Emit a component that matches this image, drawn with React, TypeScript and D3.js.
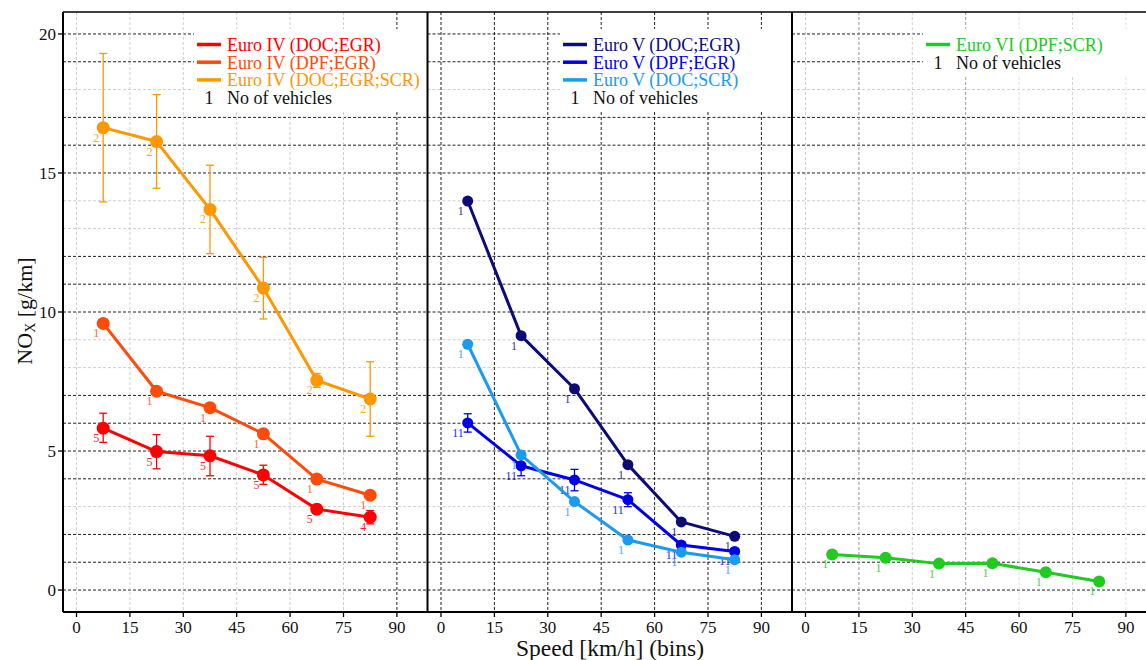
import React from "react";
import * as d3 from "d3";

// ---------- data ----------
const speedBins = [7.5, 22.5, 37.5, 52.5, 67.5, 82.5];
const xTicks = [0, 15, 30, 45, 60, 75, 90];
const yTicks = [0, 5, 10, 15, 20];
const yGridValues = d3.range(0, 21);

// Euro IV
const e4DocEgr = [5.82, 4.98, 4.83, 4.14, 2.91, 2.62];
const e4DocEgrHi = [6.36, 5.59, 5.53, 4.49, 3.02, 2.86];
const e4DocEgrLo = [5.31, 4.36, 4.11, 3.8, 2.8, 2.38];
const e4DocEgrN = [5, 5, 5, 5, 5, 4];

const e4DpfEgr = [9.59, 7.15, 6.56, 5.62, 3.99, 3.41];
const e4DpfEgrN = [1, 1, 1, 1, 1, 1];

const e4Scr = [16.63, 16.13, 13.69, 10.86, 7.54, 6.87];
const e4ScrHi = [19.3, 17.82, 15.28, 11.97, 7.79, 8.21];
const e4ScrLo = [13.96, 14.45, 12.1, 9.75, 7.29, 5.53];
const e4ScrN = [2, 2, 2, 2, 2, 2];

// Euro V
const e5DocEgr = [13.99, 9.15, 7.24, 4.51, 2.45, 1.93];
const e5DocEgrN = [1, 1, 1, 1, 1, 1];

const e5DpfEgr = [6.01, 4.47, 3.96, 3.25, 1.62, 1.39];
const e5DpfEgrHi = [6.34, 4.82, 4.34, 3.5, 1.72, 1.49];
const e5DpfEgrLo = [5.68, 4.11, 3.57, 3.0, 1.52, 1.29];
const e5DpfEgrN = [11, 11, 11, 11, 11, 11];

const e5DocScr = [8.84, 4.86, 3.18, 1.8, 1.36, 1.09];
const e5DocScrN = [1, 1, 1, 1, 1, 1];

// Euro VI
const e6DpfScr = [1.28, 1.16, 0.95, 0.96, 0.64, 0.31];
const e6DpfScrN = [1, 1, 1, 1, 1, 1];

// grid shading as seen in the figure
const hGridLight = [3, 8, 9, 13, 14, 18];
const vGridShade = [
  ["#cfcfcf", "#cfcfcf", "#cfcfcf", "#cfcfcf", "#cfcfcf", "#cfcfcf", "#222"],
  ["#222", "#222", "#222", "#222", "#222", "#222", "#222"],
  ["#cfcfcf", "#999", "#cfcfcf", "#999", "#e0e0e0", "#d5d5d5", "#e0e0e0"],
];

type Series = {
  name: string;
  color: string;
  values: number[];
  n: number[];
  hi?: number[];
  lo?: number[];
  r: number;
};

const panels: { series: Series[] }[] = [
  {
    series: [
      { name: "Euro IV (DOC;EGR)", color: "#ff0000", values: e4DocEgr, n: e4DocEgrN, hi: e4DocEgrHi, lo: e4DocEgrLo, r: 6.5 },
      { name: "Euro IV (DPF;EGR)", color: "#ff4a0a", values: e4DpfEgr, n: e4DpfEgrN, r: 6.5 },
      { name: "Euro IV (DOC;EGR;SCR)", color: "#ff9700", values: e4Scr, n: e4ScrN, hi: e4ScrHi, lo: e4ScrLo, r: 6.5 },
    ],
  },
  {
    series: [
      { name: "Euro V (DOC;EGR)", color: "#0c0c78", values: e5DocEgr, n: e5DocEgrN, r: 5.5 },
      { name: "Euro V (DPF;EGR)", color: "#0000e8", values: e5DpfEgr, n: e5DpfEgrN, hi: e5DpfEgrHi, lo: e5DpfEgrLo, r: 5.5 },
      { name: "Euro V (DOC;SCR)", color: "#1a9bf0", values: e5DocScr, n: e5DocScrN, r: 5.5 },
    ],
  },
  {
    series: [
      { name: "Euro VI (DPF;SCR)", color: "#1ecb1e", values: e6DpfScr, n: e6DpfScrN, r: 6 },
    ],
  },
];

const FONT = '"Liberation Serif", "Times New Roman", Times, serif';

export default function App() {
  const W = 1146;
  const H = 660;
  const top = 12;
  const bottom = 612;
  const left = 63;
  const panelW = 364.5;
  const y = d3.scaleLinear().domain([-0.79, 20.79]).range([bottom, top]);
  const legendLeft = [194, 560, 923];
  const legendBottom = [112, 112, 77];
  const ts = { fontFamily: FONT };

  return (
    <svg width={W} height={H} style={{ position: "absolute", left: 0, top: 0, background: "#fff", fontFamily: FONT }}>
      <rect x={0} y={0} width={W} height={H} fill="#fff" />
      {panels.map((p, pi) => {
        const x0 = left + pi * panelW;
        const x = d3.scaleLinear().domain([-3.79, 98.6]).range([x0, x0 + panelW]);
        const line = d3
          .line<number>()
          .x((_, i) => x(speedBins[i]))
          .y((d) => y(d));
        return (
          <g key={pi}>
            {/* horizontal grid */}
            {yGridValues.map((v) => (
              <line
                key={"h" + v}
                x1={x0}
                x2={x0 + panelW}
                y1={y(v)}
                y2={y(v)}
                stroke={hGridLight.includes(v) ? "#cfcfcf" : "#222"}
                strokeWidth={1}
                strokeDasharray="3,2"
              />
            ))}
            {/* vertical grid */}
            {xTicks.map((t, ti) => (
              <line
                key={"v" + t}
                x1={x(t)}
                x2={x(t)}
                y1={top}
                y2={bottom}
                stroke={vGridShade[pi][ti]}
                strokeWidth={1}
                strokeDasharray="3,2"
              />
            ))}
            {/* legend background */}
            <rect x={legendLeft[pi]} y={29} width={x0 + panelW - legendLeft[pi] - 1} height={legendBottom[pi] - 29} fill="#fff" />
            {/* x ticks */}
            {xTicks.map((t) => (
              <g key={"xt" + t}>
                <line x1={x(t)} x2={x(t)} y1={bottom} y2={bottom + 5} stroke="#000" strokeWidth={1.3} />
                <text x={x(t)} y={633} textAnchor="middle" fontSize={17} fill="#111" style={ts}>
                  {t}
                </text>
              </g>
            ))}
            {/* series */}
            {p.series.map((s, si) => (
              <g key={"s" + si}>
                {s.hi &&
                  s.lo &&
                  s.values.map((_, i) => {
                    const cx = x(speedBins[i]);
                    return (
                      <g key={"e" + i} stroke={s.color} strokeWidth={1.3}>
                        <line x1={cx} x2={cx} y1={y(s.hi![i])} y2={y(s.lo![i])} />
                        <line x1={cx - 4} x2={cx + 4} y1={y(s.hi![i])} y2={y(s.hi![i])} />
                        <line x1={cx - 4} x2={cx + 4} y1={y(s.lo![i])} y2={y(s.lo![i])} />
                      </g>
                    );
                  })}
                <path d={line(s.values) || ""} fill="none" stroke={s.color} strokeWidth={3} strokeLinejoin="round" />
                {s.values.map((v, i) => (
                  <circle key={"c" + i} cx={x(speedBins[i])} cy={y(v)} r={s.r} fill={s.color} />
                ))}
                {s.values.map((v, i) => (
                  <text
                    key={"n" + i}
                    x={x(speedBins[i]) - 4}
                    y={y(v) + 14}
                    textAnchor="end"
                    fontSize={12}
                    fill={s.color}
                    opacity={0.85}
                    style={ts}
                  >
                    {s.n[i]}
                  </text>
                ))}
              </g>
            ))}
            {/* legend */}
            {p.series.map((s, si) => {
              const ly = 44.5 + si * 17.7;
              const lx = legendLeft[pi] + 3;
              return (
                <g key={"l" + si}>
                  <line x1={lx} x2={lx + 24} y1={ly} y2={ly} stroke={s.color} strokeWidth={3.5} />
                  <text x={lx + 30} y={ly + 6.5} fontSize={18} fill={s.color} style={ts}>
                    {s.name}
                  </text>
                </g>
              );
            })}
            {(() => {
              const ly = 44.5 + p.series.length * 17.7;
              const lx = legendLeft[pi] + 3;
              return (
                <g>
                  <text x={lx + 12} y={ly + 6.5} fontSize={18} textAnchor="middle" fill="#111" style={ts}>
                    1
                  </text>
                  <text x={lx + 30} y={ly + 6.5} fontSize={18} fill="#111" style={ts}>
                    No of vehicles
                  </text>
                </g>
              );
            })()}
            {/* panel separator */}
            {pi > 0 && <line x1={x0} x2={x0} y1={top} y2={bottom} stroke="#000" strokeWidth={2} />}
          </g>
        );
      })}
      {/* frame */}
      <line x1={left} x2={W} y1={top} y2={top} stroke="#000" strokeWidth={1.5} />
      <line x1={left} x2={W} y1={bottom} y2={bottom} stroke="#000" strokeWidth={2} />
      <line x1={left} x2={left} y1={top} y2={bottom} stroke="#000" strokeWidth={2} />
      {/* y ticks */}
      {yTicks.map((t) => (
        <g key={"yt" + t}>
          <line x1={left - 5} x2={left} y1={y(t)} y2={y(t)} stroke="#000" strokeWidth={1.3} />
          <text x={left - 7} y={y(t) + 6} textAnchor="end" fontSize={17} fill="#111" style={ts}>
            {t}
          </text>
        </g>
      ))}
      {/* axis titles */}
      <text x={610} y={656} textAnchor="middle" fontSize={23.5} fill="#111" style={ts}>
        Speed [km/h] (bins)
      </text>
      <text transform="translate(32,311) rotate(-90)" textAnchor="middle" fontSize={22} fill="#111" style={ts}>
        NO
        <tspan fontSize={14} dy={3}>
          X
        </tspan>
        <tspan dy={-3}> [g/km]</tspan>
      </text>
    </svg>
  );
}
